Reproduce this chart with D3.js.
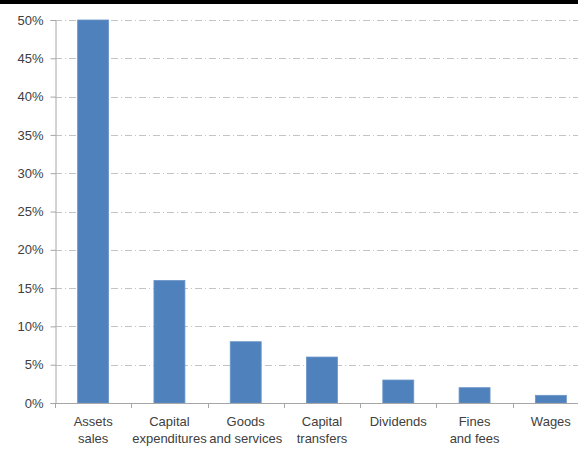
<!DOCTYPE html>
<html>
<head>
<meta charset="utf-8">
<script src="https://cdn.jsdelivr.net/npm/d3@7"></script>
<style>
  body { margin: 0; background: #fff; }
  #canvas svg { display: block; }
</style>
</head>
<body>
<div id="canvas"></div>
<script>
"use strict"

/* Data */
let categories = [
  ["Assets", "sales"],
  ["Capital", "expenditures"],
  ["Goods", "and services"],
  ["Capital", "transfers"],
  ["Dividends"],
  ["Fines", "and fees"],
  ["Wages"]
];
let shares = [0.50, 0.16, 0.08, 0.06, 0.03, 0.02, 0.01];
let yTicks = [0, 0.05, 0.10, 0.15, 0.20, 0.25, 0.30, 0.35, 0.40, 0.45, 0.50];

/* Drawing config */
let svgWidth = 578;
let svgHeight = 450;
let plotLeft = 55;
let plotTop = 20;
let plotBottom = 403;
let plotRight = 589;   // plot runs past the picture edge, as in the original
let textColor = "#404040";
let font = "'Liberation Sans', Arial, sans-serif";

let svg = d3.select("#canvas")
  .append("svg")
  .attr("width", svgWidth)
  .attr("height", svgHeight)
  .style("font-family", font);

// black strip along the top
svg.append("rect")
  .attr("x", 0).attr("y", 0)
  .attr("width", svgWidth).attr("height", 4)
  .attr("fill", "#000");

let x = d3.scaleBand()
  .domain(d3.range(categories.length))
  .range([plotLeft, plotRight])
  .paddingInner(0.594)
  .paddingOuter(0.297);

let y = d3.scaleLinear()
  .domain([0, 0.5])
  .range([plotBottom, plotTop]);

// gridlines
svg.append("g")
  .selectAll("line")
  .data(yTicks.filter(function(d){ return d > 0; }))
  .enter()
  .append("line")
  .attr("x1", plotLeft)
  .attr("x2", svgWidth)
  .attr("y1", function(d){ return Math.round(y(d)) + 0.5; })
  .attr("y2", function(d){ return Math.round(y(d)) + 0.5; })
  .attr("stroke", "#c4c4c4")
  .attr("stroke-width", 1)
  .attr("stroke-dasharray", "7,3,1,3");

// bars
svg.append("g")
  .selectAll("rect")
  .data(shares)
  .enter()
  .append("rect")
  .attr("x", function(d, i){ return x(i); })
  .attr("y", function(d){ return y(d); })
  .attr("width", x.bandwidth())
  .attr("height", function(d){ return plotBottom - y(d); })
  .attr("fill", "#4f81bd")
  .attr("stroke", "#6a95c9")
  .attr("stroke-width", 0.8);

// y axis
let yAxis = svg.append("g")
  .attr("transform", "translate(" + (plotLeft + 0.5) + ",0)")
  .call(d3.axisLeft(y)
    .tickValues(yTicks)
    .tickFormat(d3.format(".0%"))
    .tickSize(5)
    .tickPadding(7));
yAxis.select(".domain").attr("stroke", "#a6a6a6");
yAxis.selectAll(".tick line").attr("stroke", "#a6a6a6");
yAxis.selectAll(".tick text")
  .attr("fill", textColor)
  .style("font-size", "13px")
  .style("font-family", font);

// x axis line with ticks between categories
let step = x.step();
svg.append("line")
  .attr("x1", plotLeft).attr("x2", svgWidth)
  .attr("y1", plotBottom + 0.5).attr("y2", plotBottom + 0.5)
  .attr("stroke", "#a6a6a6");

svg.append("g")
  .selectAll("line")
  .data(d3.range(categories.length + 1))
  .enter()
  .append("line")
  .attr("x1", function(i){ return Math.round(plotLeft + i * step) + 0.5; })
  .attr("x2", function(i){ return Math.round(plotLeft + i * step) + 0.5; })
  .attr("y1", plotBottom)
  .attr("y2", plotBottom + 5)
  .attr("stroke", "#a6a6a6");

// category labels
let labels = svg.append("g")
  .selectAll("text")
  .data(categories)
  .enter()
  .append("text")
  .attr("x", function(d, i){ return x(i) + x.bandwidth() / 2; })
  .attr("y", 426)
  .attr("text-anchor", "middle")
  .attr("fill", textColor)
  .style("font-size", "13px");

labels.selectAll("tspan")
  .data(function(d){ return d; })
  .enter()
  .append("tspan")
  .attr("x", function(){ return d3.select(this.parentNode).attr("x"); })
  .attr("dy", function(d, j){ return j === 0 ? 0 : 17; })
  .text(function(d){ return d; });
</script>
</body>
</html>
